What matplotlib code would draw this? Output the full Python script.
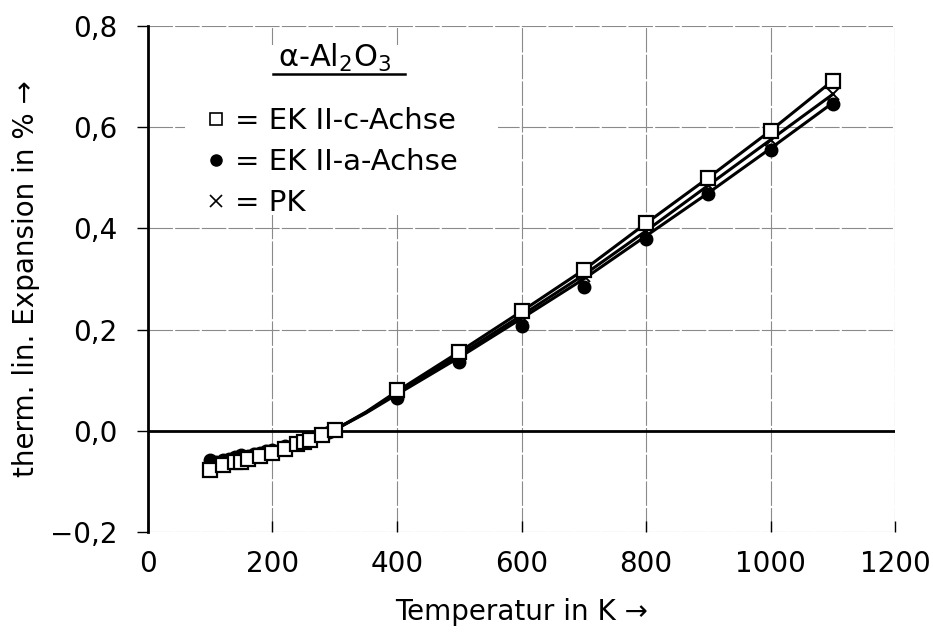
import matplotlib.pyplot as plt
from matplotlib.lines import Line2D
from matplotlib.patches import Rectangle

plt.rcParams['font.family'] = ['DejaVu Sans']
plt.rcParams['mathtext.fontset'] = 'dejavusans'

# measured points, c-axis single crystal (open squares)
T_c = [100, 120, 140, 150, 160, 180, 200, 220, 240, 250, 260, 280, 300,
       400, 500, 600, 700, 800, 900, 1000, 1100]
dl_c = [-0.078, -0.068, -0.062, -0.062, -0.055, -0.050, -0.043, -0.035, -0.027, -0.022, -0.018, -0.008, 0.002,
        0.080, 0.155, 0.237, 0.318, 0.410, 0.500, 0.593, 0.692]

# measured points, a-axis single crystal (filled dots)
T_a = [100, 110, 120, 130, 140, 150, 160, 170, 180, 190, 200, 220, 240, 250, 260, 280, 290, 300,
       400, 500, 600, 700, 800, 900, 1000, 1100]
dl_a = [-0.058, -0.062, -0.058, -0.055, -0.052, -0.047, -0.050, -0.045, -0.043, -0.040, -0.037, -0.030,
        -0.024, -0.020, -0.016, -0.008, -0.003, 0.003,
        0.065, 0.135, 0.207, 0.285, 0.380, 0.467, 0.555, 0.645]

# polycrystal (crosses)
T_p = [400, 500, 600, 700, 800, 900, 1000, 1100]
dl_p = [0.075, 0.150, 0.225, 0.305, 0.395, 0.485, 0.575, 0.665]

# fitted curves
T_fit = [100, 150, 200, 250, 300, 350, 400, 500, 600, 700, 800, 900, 1000, 1100]
fit_c = [-0.072, -0.058, -0.042, -0.022, 0.002, 0.037, 0.078, 0.156, 0.236, 0.318, 0.410, 0.500, 0.593, 0.692]
fit_a = [-0.066, -0.054, -0.040, -0.022, 0.002, 0.035, 0.072, 0.145, 0.222, 0.300, 0.385, 0.470, 0.558, 0.648]
fit_p = [-0.068, -0.056, -0.041, -0.022, 0.002, 0.036, 0.075, 0.150, 0.228, 0.308, 0.395, 0.485, 0.575, 0.665]

xticks = [0, 200, 400, 600, 800, 1000, 1200]
yticks = [-0.2, 0.0, 0.2, 0.4, 0.6, 0.8]
ylabels = ['\u22120,2', '0,0', '0,2', '0,4', '0,6', '0,8']
leg_labels = ['= EK II-c-Achse', '= EK II-a-Achse', '= PK']

fig = plt.figure(figsize=(9.33, 6.32), dpi=100)
ax = fig.add_axes([0.1586, 0.1582, 0.8007, 0.8007])

# grid
for x in xticks:
    ax.axvline(x, color='#8a8a8a', lw=0.8, ls=(0, (22, 2)), zorder=1)
for y in yticks:
    ax.axhline(y, color='#8a8a8a', lw=0.8, ls=(0, (22, 2)), zorder=1)
ax.axhline(0, color='black', lw=2.0, zorder=2)

# white field behind the legend block
ax.add_patch(Rectangle((0.0495, 0.626), 0.419, 0.336, transform=ax.transAxes,
                       facecolor='white', edgecolor='none', zorder=1.5))

# fit lines
for f in (fit_c, fit_a, fit_p):
    ax.plot(T_fit, f, color='black', lw=2.2, zorder=3)

ax.plot(T_c, dl_c, ls='none', marker='s', ms=9.5, mfc='white', mec='black', mew=1.6, zorder=5)
ax.plot(T_a, dl_a, ls='none', marker='o', ms=9, mfc='black', mec='black', zorder=4)
ax.plot(T_p, dl_p, ls='none', marker='x', ms=9, color='black', mew=1.4, zorder=4)

ax.set_xlim(0, 1200)
ax.set_ylim(-0.2, 0.8)
ax.set_xticks(xticks)
ax.set_xticklabels([str(v) for v in xticks])
ax.set_yticks(yticks)
ax.set_yticklabels(ylabels)
ax.tick_params(axis='y', labelsize=20, length=8, width=1.0, direction='out', pad=14)
ax.tick_params(axis='x', labelsize=20, length=8, width=1.0, direction='in', pad=13)

for s in ('top', 'right', 'bottom'):
    ax.spines[s].set_visible(False)
ax.spines['left'].set_linewidth(2.0)

ax.set_xlabel('Temperatur in K \u2192', fontsize=20, labelpad=14)
ax.set_ylabel('therm. lin. Expansion in % \u2192', fontsize=20, labelpad=7)

handles = [
    Line2D([], [], ls='none', marker='s', ms=8, mfc='white', mec='black', mew=1.2),
    Line2D([], [], ls='none', marker='o', ms=8, mfc='black', mec='black'),
    Line2D([], [], ls='none', marker='x', ms=8, color='black', mew=1.2),
]
leg = ax.legend(handles, leg_labels, loc='upper left', bbox_to_anchor=(0.0676, 0.851),
                fontsize=21, frameon=False, borderaxespad=0,
                handlelength=0.8, handletextpad=0.25, labelspacing=0.44, borderpad=0.2)
leg.set_zorder(6)

ax.text(0.174, 0.919, '\u03b1-Al$_\\mathregular{2}$O$_\\mathregular{3}$', transform=ax.transAxes,
        fontsize=22, ha='left', va='baseline', zorder=7)
ax.plot([0.167, 0.344], [0.906, 0.906], transform=ax.transAxes, color='black', lw=1.8,
        zorder=8, clip_on=False)

fig.savefig('out.png', dpi=100)
